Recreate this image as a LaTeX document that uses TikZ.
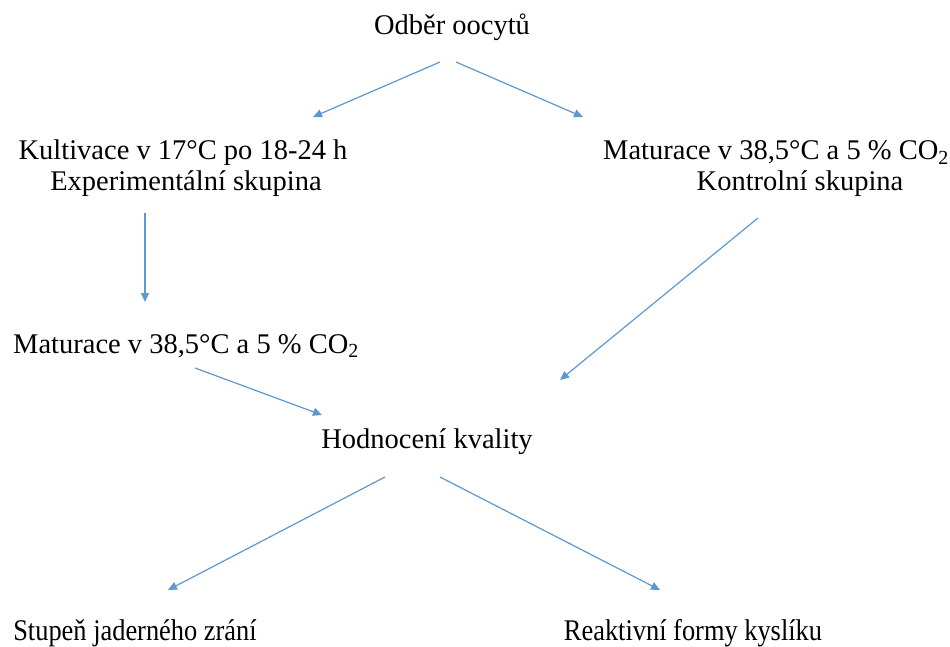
\documentclass[tikz,border=0pt]{standalone}
\usepackage{fontspec}
\usepackage{graphicx}
\setmainfont{Liberation Serif}
\usetikzlibrary{arrows.meta}
\definecolor{arr}{RGB}{95,152,208}
\begin{document}
\begin{tikzpicture}[x=1pt,y=-1pt,
  lbl/.style={font=\fontsize{28.5}{33}\selectfont, inner sep=0pt, anchor=base},
  lblb/.style={font=\fontsize{30}{34}\selectfont, inner sep=0pt, anchor=base},
  conn/.style={draw=arr, line width=1.2pt, -{Triangle[length=9pt,width=8pt]}}]
\useasboundingbox[fill=white] (0,0) rectangle (950,647);
\node[lbl] (odber) at (452,35) {Odběr oocytů};
\node[lbl] (kult) at (183,160) {Kultivace v 17°C po 18-24 h};
\node[lbl] (exp) at (186,191) {Experimentální skupina};
\node[lbl] (matr) at (776,160) {Maturace v 38,5°C a 5 \% CO\textsubscript{2}};
\node[lbl] (kontr) at (800,191) {Kontrolní skupina};
\node[lbl] (matl) at (186,353) {Maturace v 38,5°C a 5 \% CO\textsubscript{2}};
\node[lbl] (hodn) at (427,448) {Hodnocení kvality};
\node[lblb] (stup) at (135,640) {\scalebox{0.88}[1]{Stupeň jaderného zrání}};
\node[lblb] (reak) at (693,640) {\scalebox{0.88}[1]{Reaktivní formy kyslíku}};
\coordinate (a1s) at (440,62);  \coordinate (a1e) at (313,117);
\coordinate (a2s) at (456,62);  \coordinate (a2e) at (583,117);
\coordinate (a3s) at (145,213); \coordinate (a3e) at (145,302);
\coordinate (a4s) at (758,218); \coordinate (a4e) at (560,380);
\coordinate (a5s) at (195,368); \coordinate (a5e) at (322,415);
\coordinate (a6s) at (385,477); \coordinate (a6e) at (168,590);
\coordinate (a7s) at (440,477); \coordinate (a7e) at (660,590);
\draw[conn] (a1s) -- (a1e);
\draw[conn] (a2s) -- (a2e);
\draw[conn] (a3s) -- (a3e);
\draw[conn] (a4s) -- (a4e);
\draw[conn] (a5s) -- (a5e);
\draw[conn] (a6s) -- (a6e);
\draw[conn] (a7s) -- (a7e);
\end{tikzpicture}
\end{document}
